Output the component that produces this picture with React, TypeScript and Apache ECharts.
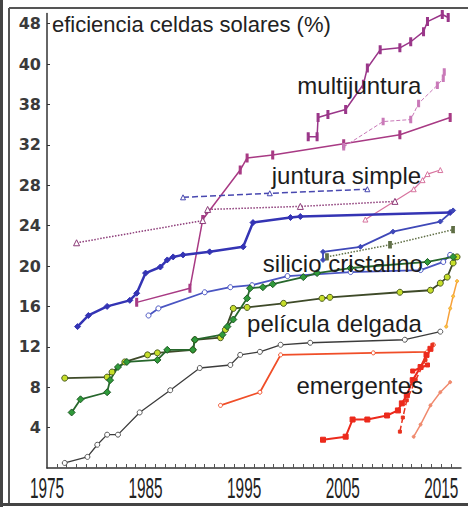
import React, { useEffect, useRef } from "react";
import * as echarts from "echarts";

// ---- axis ticks ----
const xLabelYears = [1975, 1985, 1995, 2005, 2015];
const xMinorYears = Array.from({ length: 41 }, (_, i) => 1976 + i);
const yTickValues = [4, 8, 12, 16, 20, 24, 28, 32, 36, 40, 44];
const yTickLabels = ["4", "8", "12", "16", "20", "24", "28", "32", "38", "40", "48"];

// ---- multijuntura ----
const multiTop: [number, number][] = [
  [2001.5, 32.8], [2002.4, 32.8], [2002.5, 34.7], [2003.5, 35.0], [2005.3, 35.5],
  [2007.1, 38.0], [2007.5, 39.6], [2008.8, 41.4], [2010.8, 41.6], [2011.9, 42.2],
  [2013.2, 43.2], [2013.6, 44.2], [2015.1, 44.9], [2015.7, 44.6],
];
const multiDashed: [number, number][] = [
  [2005.1, 31.8], [2009.1, 34.3], [2011.9, 34.5], [2012.7, 36.1], [2014.6, 37.9],
  [2015.2, 38.6], [2015.3, 39.2],
];
const multiLong: [number, number][] = [
  [1984.1, 16.4], [1989.5, 17.8], [1990.8, 24.6], [1994.6, 29.5], [1995.3, 30.7],
  [1997.9, 31.0], [2005.1, 32.1], [2010.8, 33.0], [2015.9, 34.7],
];

// ---- juntura simple ----
const singleDotted: [number, number][] = [
  [1978.0, 22.3], [1990.8, 24.5], [1991.3, 25.6], [2000.7, 25.9], [2010.3, 26.4],
];
const singleBlueDashed: [number, number][] = [
  [1988.8, 26.8], [1997.6, 27.2], [2007.5, 27.6],
];
const singlePink: [number, number][] = [
  [2007.3, 24.6], [2012.2, 27.6], [2013.1, 28.5], [2013.6, 29.1], [2014.9, 29.5],
];

// ---- silicio cristalino ----
const siMono: [number, number][] = [
  [1978.1, 14.0], [1979.2, 15.1], [1981.1, 16.0], [1983.4, 16.6], [1984.1, 17.3],
  [1985.0, 19.3], [1986.5, 19.9], [1987.2, 20.6], [1987.8, 20.9], [1988.8, 21.1],
  [1991.5, 21.4], [1994.9, 21.9], [1995.9, 24.3], [1999.7, 24.8], [2000.7, 24.9],
  [2015.9, 25.3],
];
const siMulti: [number, number][] = [
  [1985.3, 15.1], [1986.3, 15.8], [1991.0, 17.4], [1993.6, 17.9], [1995.8, 18.1],
  [1999.4, 19.0], [2005.8, 19.4], [2012.9, 19.6], [2015.2, 20.4], [2015.9, 21.1],
];
const siThin: [number, number][] = [
  [2003.0, 20.6], [2003.0, 21.4], [2006.8, 21.9], [2010.1, 23.4], [2014.9, 24.4],
  [2016.2, 25.5],
];
const siDotted: [number, number][] = [
  [2003.4, 20.9], [2009.8, 22.1], [2016.2, 23.6],
];

// ---- pelicula delgada ----
const cigs: [number, number][] = [
  [1977.5, 5.5], [1978.4, 6.8], [1981.1, 7.5], [1981.4, 8.7], [1982.2, 10.0],
  [1983.1, 10.5], [1986.2, 10.7], [1987.2, 11.7], [1989.8, 11.7], [1990.0, 12.7],
  [1992.8, 13.2], [1993.3, 14.0], [1993.9, 14.7], [1995.3, 16.8], [1995.6, 17.8],
  [1996.9, 17.9], [1997.9, 18.2], [2001.0, 18.9], [2002.4, 19.3], [2005.8, 19.8],
  [2013.6, 20.4], [2016.2, 20.9],
];
const cdte: [number, number][] = [
  [1976.8, 8.9], [1981.1, 9.0], [1981.6, 9.5], [1982.9, 10.5], [1985.2, 11.2],
  [1986.2, 11.4], [1989.8, 11.7], [1990.0, 12.7], [1992.6, 12.9], [1993.1, 13.7],
  [1993.9, 15.8], [1995.3, 15.9], [1999.0, 16.3], [2002.9, 16.8], [2003.7, 16.9],
  [2010.8, 17.4], [2013.9, 17.6], [2014.9, 18.3], [2015.6, 18.9], [2016.2, 20.3],
  [2016.6, 20.9],
];
const aSi: [number, number][] = [
  [1976.8, 0.5], [1979.1, 1.1], [1980.1, 2.3], [1981.1, 3.3], [1982.2, 3.3],
  [1984.4, 5.5], [1987.5, 7.7], [1990.5, 9.9], [1993.6, 10.2], [1994.6, 11.2],
  [1996.6, 11.5], [1998.7, 12.2], [2001.7, 12.4], [2011.3, 12.7], [2014.9, 13.5],
];

// ---- emergentes ----
const dye: [number, number][] = [
  [1992.6, 6.2], [1996.6, 7.5], [1998.7, 11.2], [2008.1, 11.4], [2013.6, 11.5],
  [2014.2, 12.2],
];
const organic: [number, number][] = [
  [2003.0, 2.8], [2005.3, 3.1], [2006.0, 4.8], [2007.5, 4.8], [2009.5, 5.2],
  [2010.6, 5.7], [2011.0, 6.4], [2011.5, 7.2], [2012.1, 8.7], [2012.9, 10.0],
  [2013.5, 11.2], [2013.9, 11.8],
];
const organicShort: [number, number][] = [
  [2012.1, 9.6], [2013.6, 10.2],
];
const perovskite: [number, number][] = [
  [2010.8, 3.6], [2011.1, 5.0], [2011.5, 6.7], [2012.4, 8.7], [2013.4, 10.7],
  [2014.1, 12.2],
];
const perovskiteTail: [number, number][] = [
  [2015.5, 14.0], [2015.9, 15.8], [2016.2, 17.0], [2016.6, 18.5],
];
const quantumDot: [number, number][] = [
  [2012.2, 3.1], [2012.9, 4.3], [2013.9, 6.2], [2014.9, 7.5], [2015.9, 8.5],
];

// ---- labels ----
const titleText = "eficiencia celdas solares (%)";
const groupLabels = ["multijuntura", "juntura simple", "silicio cristalino", "película delgada", "emergentes"];
const groupLabelYears = [2000.4, 1997.8, 1996.9, 1995.3, 2000.3];
const groupLabelValues = [37.9, 29.0, 20.2, 14.3, 8.2];

type Pt = [number, number];

function line(
  data: Pt[],
  color: string,
  opts: {
    width?: number;
    type?: "solid" | "dashed" | "dotted";
    symbol?: string;
    size?: number | number[];
    symFill?: string;
    symBorder?: string;
    z?: number;
  } = {}
) {
  return {
    type: "line",
    data,
    showSymbol: true,
    symbol: opts.symbol ?? "circle",
    symbolSize: opts.size ?? 3,
    z: opts.z ?? 2,
    lineStyle: { color, width: opts.width ?? 1.5, type: opts.type ?? "solid" },
    itemStyle: {
      color: opts.symFill ?? color,
      borderColor: opts.symBorder ?? color,
      borderWidth: 1,
    },
    emphasis: { disabled: true },
  };
}

export default function App() {
  const ref = useRef<HTMLDivElement>(null);
  useEffect(() => {
    if (!ref.current) return;
    const chart = echarts.init(ref.current, undefined, { renderer: "svg" });
    const font = "'Liberation Sans', Arial, sans-serif";
    chart.setOption({
      animation: false,
      backgroundColor: "#ffffff",
      grid: { left: 47, right: 14, top: 13.5, bottom: 39, containLabel: false },
      xAxis: {
        type: "value",
        min: 1975,
        max: 2017,
        axisLine: { show: true, lineStyle: { color: "#333", width: 1.5 } },
        axisTick: {
          show: true,
          inside: true,
          length: 4,
          customValues: xMinorYears,
          lineStyle: { color: "#555", width: 1 },
        },
        axisLabel: { show: false },
        splitLine: { show: false },
      },
      yAxis: {
        type: "value",
        min: 0,
        max: 45,
        axisLine: { show: true, lineStyle: { color: "#333", width: 1.5 } },
        axisTick: {
          show: true,
          inside: true,
          length: 3,
          customValues: yTickValues,
          lineStyle: { color: "#333", width: 1 },
        },
        axisLabel: {
          customValues: yTickValues,
          margin: 6,
          fontSize: 16,
          fontWeight: "bold",
          fontFamily: "'DejaVu Sans', sans-serif",
          color: "#3a3a3a",
          formatter: (v: number) => {
            const i = yTickValues.indexOf(v);
            return i >= 0 ? yTickLabels[i] : "";
          },
        },
        splitLine: { show: false },
      },
      series: [
        line(multiLong, "#a83a84", { width: 1.5, symbol: "rect", size: [2, 6] }),
        line(multiDashed, "#c979b8", { width: 1, type: "dashed", symbol: "rect", size: [2, 5] }),
        line(multiTop, "#9a3689", { width: 1.5, symbol: "rect", size: [2, 6] }),
        line(singleDotted, "#8c3b78", { width: 1.5, type: "dotted", symbol: "triangle", size: 6, symFill: "#fff" }),
        line(singleBlueDashed, "#4848b0", { width: 1.5, type: "dashed", symbol: "triangle", size: 5, symFill: "#fff" }),
        line(singlePink, "#d7739e", { width: 1.2, symbol: "triangle", size: 5, symFill: "#fff" }),
        line(siMono, "#3434b4", { width: 2.5, symbol: "diamond", size: 6 }),
        line(siMulti, "#4a55c2", { width: 1.8, symbol: "circle", size: 5, symFill: "#fff", symBorder: "#4a55c2" }),
        line(siThin, "#3f48b8", { width: 1.8, symbol: "diamond", size: 5 }),
        line(siDotted, "#5f6e45", { width: 1.5, type: "dotted", symbol: "rect", size: [3, 6] }),
        line(aSi, "#3c3c3c", { width: 1.3, symbol: "circle", size: 5, symFill: "#ffffff", symBorder: "#555" }),
        line(cdte, "#3e4a28", { width: 1.8, symbol: "circle", size: 6, symFill: "#c6de2a", symBorder: "#4a5a20" }),
        line(cigs, "#27672c", { width: 1.8, symbol: "diamond", size: 7, symFill: "#2f9a3a", symBorder: "#1e5a24" }),
        line(dye, "#f04e28", { width: 1.8, symbol: "circle", size: 4, symFill: "#fff", symBorder: "#f04e28" }),
        line(organic, "#ec2a1c", { width: 2, symbol: "rect", size: 5 }),
        line(organicShort, "#ec2a1c", { width: 2, symbol: "rect", size: 4 }),
        line(perovskite, "#e8321e", { width: 1.5, type: "dashed", symbol: "rect", size: 3 }),
        line(perovskiteTail, "#f7a13a", { width: 1.5, symbol: "circle", size: 3, symFill: "#f5d040" }),
        line(quantumDot, "#f08a6e", { width: 1.5, symbol: "circle", size: 3 }),
      ],
    });

    const graphics: any[] = [
      { type: "line", z: 100, shape: { x1: 9, y1: 8, x2: 468, y2: 8 }, style: { stroke: "#555", lineWidth: 2 } },
      { type: "line", z: 100, shape: { x1: 9, y1: 8, x2: 9, y2: 504 }, style: { stroke: "#555", lineWidth: 2 } },
      { type: "line", z: 100, shape: { x1: 1.5, y1: 0, x2: 1.5, y2: 507 }, style: { stroke: "#444", lineWidth: 3 } },
      { type: "line", z: 100, shape: { x1: 0, y1: 504.5, x2: 468, y2: 504.5 }, style: { stroke: "#444", lineWidth: 3 } },
      {
        type: "text",
        z: 50,
        x: 52,
        y: 24,
        style: { text: titleText, font: `22px ${font}`, fill: "#222", textAlign: "left", textVerticalAlign: "middle" },
      },
    ];
    // group labels, placed through the chart's coordinate system
    groupLabels.forEach((t, i) => {
      const p = chart.convertToPixel({ gridIndex: 0 }, [groupLabelYears[i], groupLabelValues[i]]);
      graphics.push({
        type: "text",
        z: 50,
        x: p[0],
        y: p[1],
        style: { text: t, font: `24px ${font}`, fill: "#1c1c1c", textAlign: "left", textVerticalAlign: "middle" },
      });
    });
    // condensed x tick labels at the axis' own positions
    xLabelYears.forEach((yr) => {
      const p = chart.convertToPixel({ gridIndex: 0 }, [yr, 0]);
      graphics.push({
        type: "text",
        z: 50,
        x: p[0],
        y: p[1] + 20,
        scaleX: 0.53,
        style: { text: String(yr), font: `29px ${font}`, fill: "#222", textAlign: "center", textVerticalAlign: "middle" },
      });
    });
    chart.setOption({ graphic: graphics });
    return () => chart.dispose();
  }, []);
  return (
    <div
      ref={ref}
      style={{ position: "fixed", left: 0, top: 0, width: 475, height: 507, background: "#fff" }}
    />
  );
}
